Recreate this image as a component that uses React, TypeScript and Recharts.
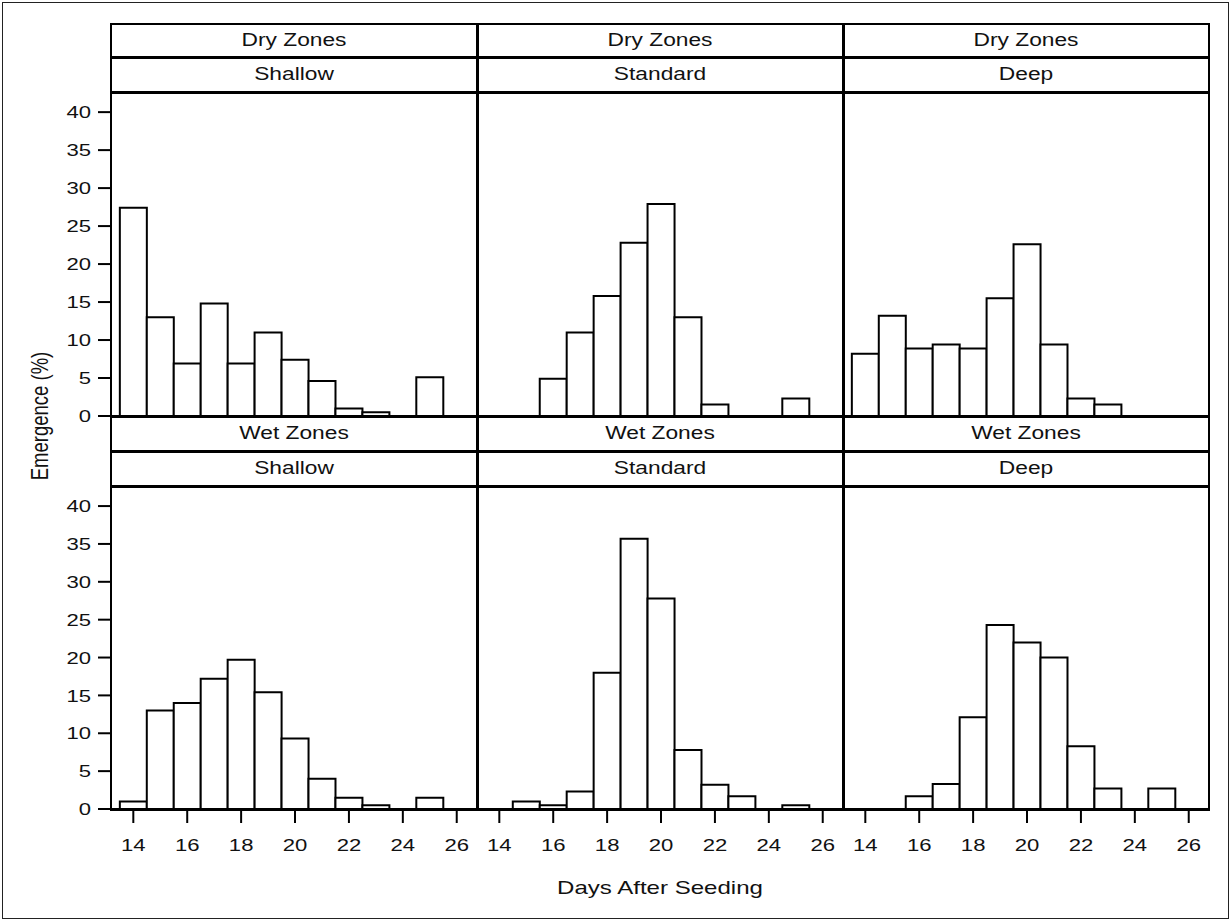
import React from 'react';
import { BarChart, Bar, XAxis, YAxis } from 'recharts';

// histogram bins (days after seeding, bin width 1)
const days = [14, 15, 16, 17, 18, 19, 20, 21, 22, 23, 24, 25];
const zones = ['Dry Zones', 'Wet Zones'];
const depths = ['Shallow', 'Standard', 'Deep'];

// emergence (%) per bin
const dryShallow = [27.4, 13.0, 6.9, 14.8, 6.9, 11.0, 7.4, 4.6, 1.0, 0.5, 0, 5.1];
const dryStandard = [0, 0, 4.9, 11.0, 15.8, 22.8, 27.9, 13.0, 1.5, 0, 0, 2.3];
const dryDeep = [8.2, 13.2, 8.9, 9.4, 8.9, 15.5, 22.6, 9.4, 2.3, 1.5, 0, 0];
const wetShallow = [1.0, 13.0, 14.0, 17.2, 19.7, 15.4, 9.3, 4.0, 1.5, 0.5, 0, 1.5];
const wetStandard = [0, 1.0, 0.5, 2.3, 18.0, 35.7, 27.8, 7.8, 3.2, 1.7, 0, 0.5];
const wetDeep = [0, 0, 1.7, 3.3, 12.1, 24.3, 22.0, 20.0, 8.3, 2.7, 0, 2.7];

const xTicks = [14, 16, 18, 20, 22, 24, 26];
const yTicks = [0, 5, 10, 15, 20, 25, 30, 35, 40];

const series = [
  [dryShallow, dryStandard, dryDeep],
  [wetShallow, wetStandard, wetDeep],
];

const FONT = "'Liberation Sans', Arial, sans-serif";
const STRETCH = 1.3; // the source picture is wider than tall
const COL_X = [111, 477, 843];
const PANEL_W = 366;
const ROWS = [
  { stripTop: 24, mid: 57, plotTop: 92, plotBottom: 416 },
  { stripTop: 416, mid: 451, plotTop: 486, plotBottom: 809 },
];
const X_DOMAIN = [13.172, 26.752];
const Y_DOMAIN = [0, 42.65];
const YAXIS_W = 70;

const XTick = (props: any) => {
  const { x, y, payload } = props;
  return (
    <g transform={`translate(${x},${y})`}>
      <text transform={`scale(${STRETCH},1)`} textAnchor="middle" dy="0.71em" fontSize={17} fill="#111" fontFamily={FONT}>
        {payload.value}
      </text>
    </g>
  );
};

const YTick = (props: any) => {
  const { x, y, payload } = props;
  return (
    <g transform={`translate(${x},${y})`}>
      <text transform={`scale(${STRETCH},1)`} textAnchor="end" dy="0.36em" fontSize={17} fill="#111" fontFamily={FONT}>
        {payload.value}
      </text>
    </g>
  );
};

const Panel = ({ values, row, col }: { values: number[]; row: number; col: number }) => {
  const r = ROWS[row];
  const plotH = r.plotBottom - r.plotTop;
  const showX = row === 1;
  const showY = col === 0;
  // top row keeps some room below so the "0" label is not clipped
  const extraBottom = showX ? 0 : 14;
  const chartH = plotH + (showX ? 60 : extraBottom);
  const chartW = PANEL_W + (showY ? YAXIS_W : 0);
  const data = days.map((d, i) => ({ day: d, value: values[i] }));
  return (
    <div style={{ position: 'absolute', left: COL_X[col] - (showY ? YAXIS_W : 0), top: r.plotTop }}>
      <BarChart width={chartW} height={chartH} data={data} margin={{ top: 0, right: 0, bottom: extraBottom, left: 0 }} barCategoryGap={0} barGap={0}>
        <XAxis
          dataKey="day"
          type="number"
          domain={X_DOMAIN}
          allowDataOverflow
          ticks={xTicks}
          hide={!showX}
          height={60}
          axisLine={false}
          tickLine={{ stroke: '#000', strokeWidth: 2 }}
          tickSize={14}
          tickMargin={16}
          tick={<XTick />}
          interval={0}
        />
        <YAxis
          type="number"
          domain={Y_DOMAIN}
          allowDataOverflow
          ticks={yTicks}
          hide={!showY}
          width={YAXIS_W}
          axisLine={false}
          tickLine={{ stroke: '#000', strokeWidth: 2 }}
          tickSize={13}
          tickMargin={7}
          tick={<YTick />}
          interval={0}
        />
        <Bar dataKey="value" fill="#fff" stroke="#000" strokeWidth={2} isAnimationActive={false} />
      </BarChart>
    </div>
  );
};

const hLine = (y: number, w: number, key: string) => (
  <div key={key} style={{ position: 'absolute', left: COL_X[0] - 1, top: y - w / 2, width: PANEL_W * 3 + 2, height: w, background: '#000' }} />
);
const vLine = (x: number, w: number, key: string) => (
  <div key={key} style={{ position: 'absolute', left: x - w / 2, top: ROWS[0].stripTop - 1, width: w, height: ROWS[1].plotBottom - ROWS[0].stripTop + 2, background: '#000' }} />
);

const stripText: React.CSSProperties = {
  position: 'absolute',
  width: PANEL_W,
  textAlign: 'center',
  fontFamily: FONT,
  fontSize: 17.5,
  color: '#111',
  transform: `scaleX(${STRETCH})`,
};

export default function App() {
  return (
    <div style={{ position: 'absolute', left: 0, top: 0, width: 1231, height: 921, background: '#fff', overflow: 'hidden' }}>
      <div style={{ position: 'absolute', left: 2, top: 2, width: 1225, height: 915, border: '1.5px solid #222' }} />

      {series.map((rowVals, row) =>
        rowVals.map((vals, col) => <Panel key={`${row}-${col}`} values={vals} row={row} col={col} />)
      )}

      {ROWS.map((r, row) =>
        depths.map((depth, col) => (
          <React.Fragment key={`s-${row}-${col}`}>
            <div style={{ ...stripText, left: COL_X[col], top: r.stripTop, height: r.mid - r.stripTop, lineHeight: `${r.mid - r.stripTop}px` }}>
              {zones[row]}
            </div>
            <div style={{ ...stripText, left: COL_X[col], top: r.mid, height: r.plotTop - r.mid, lineHeight: `${r.plotTop - r.mid}px` }}>
              {depth}
            </div>
          </React.Fragment>
        ))
      )}

      {hLine(ROWS[0].stripTop, 2, 'h0')}
      {hLine(ROWS[0].mid, 3, 'h1')}
      {hLine(ROWS[0].plotTop, 3, 'h2')}
      {hLine(ROWS[0].plotBottom, 3, 'h3')}
      {hLine(ROWS[1].mid, 3, 'h4')}
      {hLine(ROWS[1].plotTop, 3, 'h5')}
      {hLine(ROWS[1].plotBottom, 3, 'h6')}
      {vLine(COL_X[0], 2, 'v0')}
      {vLine(COL_X[1], 3, 'v1')}
      {vLine(COL_X[2], 3, 'v2')}
      {vLine(COL_X[2] + PANEL_W, 2, 'v3')}

      <div
        style={{
          position: 'absolute',
          left: 40 - 120,
          top: 416 - 15,
          width: 240,
          height: 30,
          lineHeight: '30px',
          textAlign: 'center',
          fontFamily: FONT,
          fontSize: 18.5,
          color: '#111',
          transform: `scaleX(${STRETCH}) rotate(-90deg)`,
        }}
      >
        Emergence (%)
      </div>
      <div
        style={{
          position: 'absolute',
          left: 660 - 200,
          top: 888 - 15,
          width: 400,
          height: 30,
          lineHeight: '30px',
          textAlign: 'center',
          fontFamily: FONT,
          fontSize: 18.5,
          color: '#111',
          transform: `scaleX(${STRETCH})`,
        }}
      >
        Days After Seeding
      </div>
    </div>
  );
}
